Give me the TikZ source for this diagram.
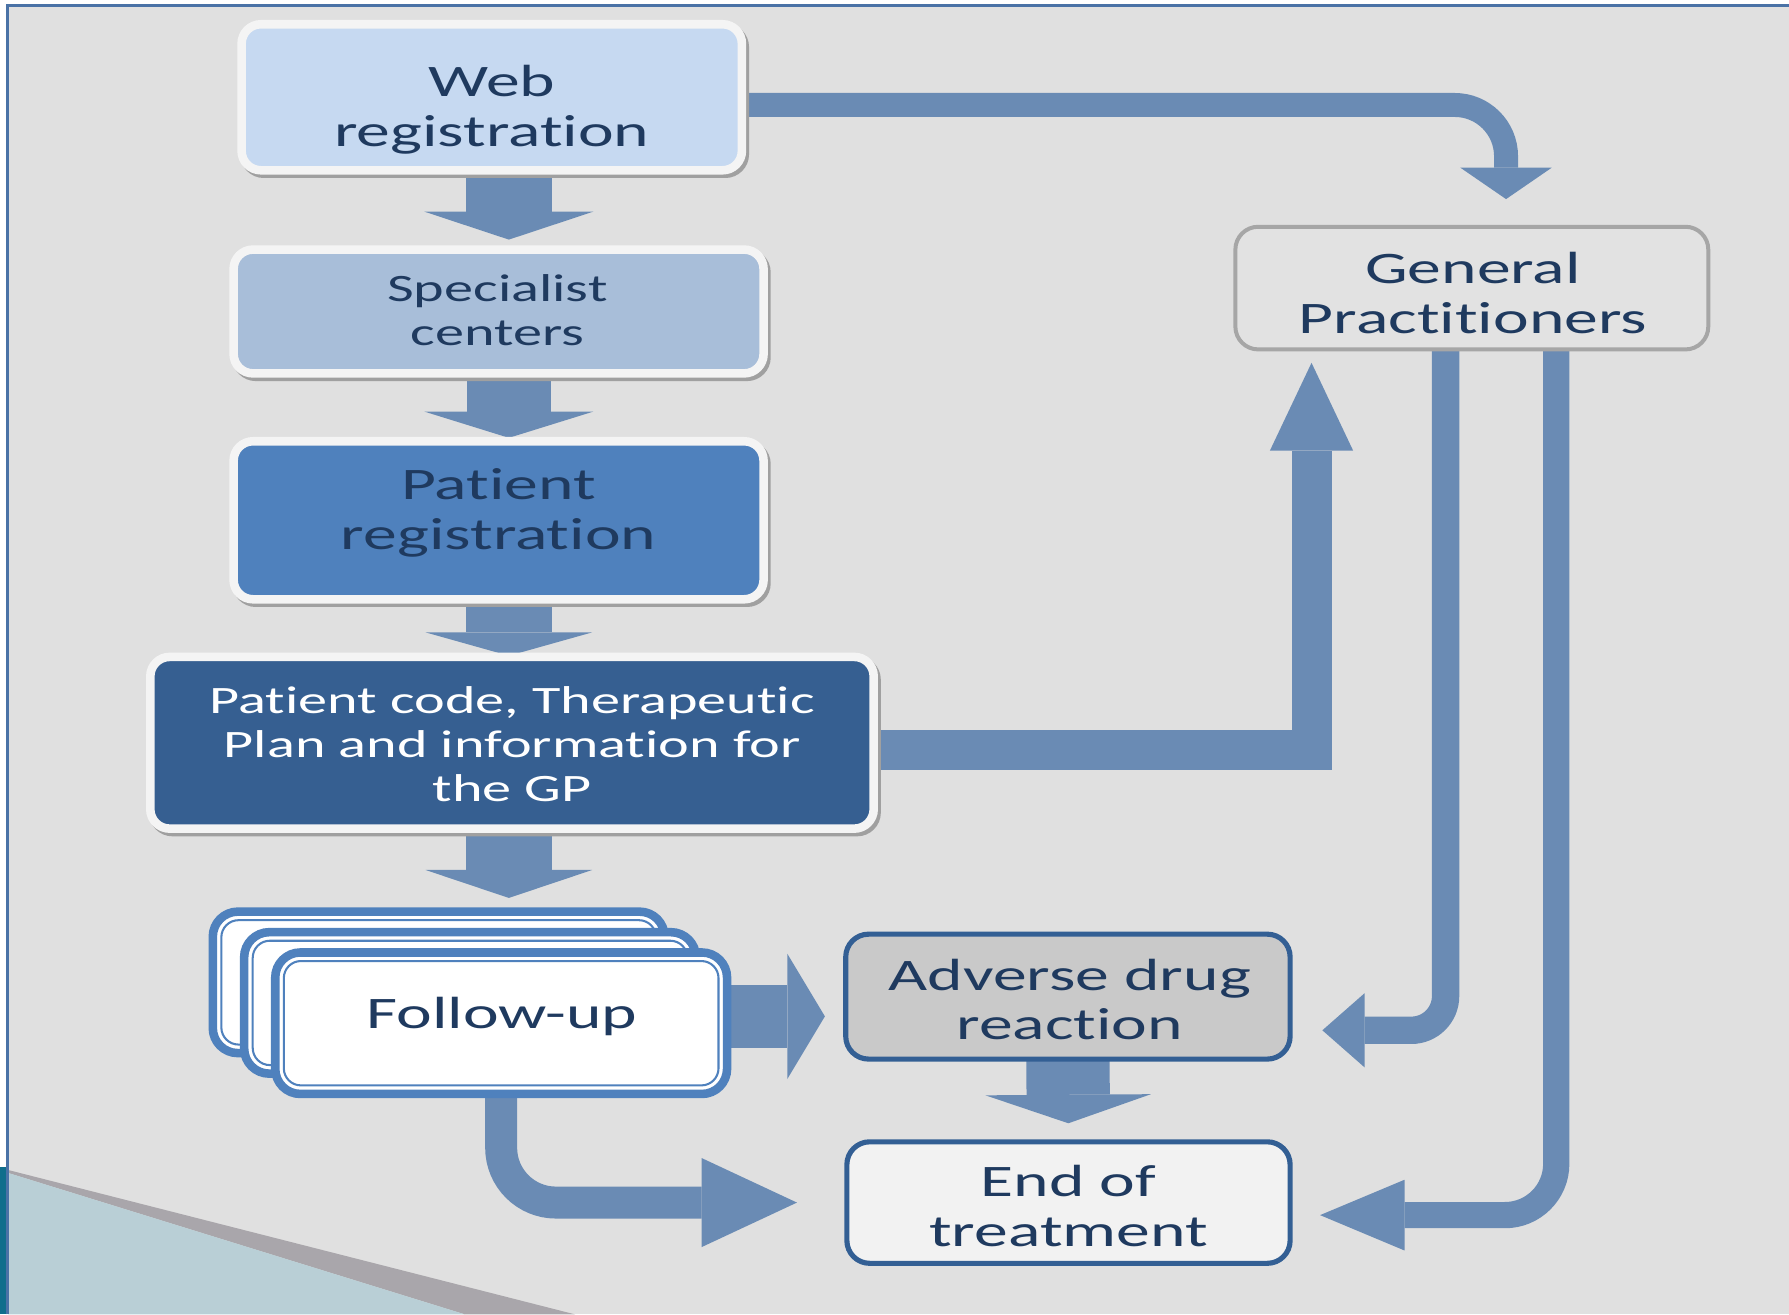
\documentclass[tikz,border=0pt]{standalone}
\usepackage{fontspec}
\newfontfamily\diagfont[FakeStretch=1.5, Ligatures=NoCommon]{Carlito}
\usetikzlibrary{arrows.meta,calc,shadows}

\definecolor{bgray}{HTML}{E0E0E0}
\definecolor{frameblue}{HTML}{4A72A6}
\definecolor{navy}{HTML}{1F3A5F}
\definecolor{webfill}{HTML}{C6D9F1}
\definecolor{specfill}{HTML}{A8BED9}
\definecolor{regfill}{HTML}{4F81BD}
\definecolor{codefill}{HTML}{365F91}
\definecolor{rimwhite}{HTML}{F4F4F4}
\definecolor{shadowgray}{HTML}{A0A0A0}
\definecolor{arrowblue}{HTML}{6A8BB4}
\definecolor{stackblue}{HTML}{4F81BD}
\definecolor{darkrim}{HTML}{335F94}
\definecolor{adrfill}{HTML}{C9C9C9}
\definecolor{endfill}{HTML}{F2F2F2}
\definecolor{gprim}{HTML}{A6A6A6}
\definecolor{gpfill}{HTML}{E2E2E2}
\definecolor{tealband}{HTML}{106E8C}
\definecolor{paleblue}{HTML}{B9CFD6}
\definecolor{stripegray}{HTML}{A9A6AB}

\pgfdeclarelayer{back}
\pgfdeclarelayer{flow}
\pgfsetlayers{back,flow,main}

\tikzset{
  every node/.style={inner sep=0pt, outer sep=0pt},
  rimbox/.style={rounded corners=17pt, draw=rimwhite, line width=7.5pt,
    drop shadow={shadow xshift=2.5pt, shadow yshift=-3pt, draw=shadowgray,
      fill=shadowgray, line width=7.5pt, opacity=1}},
  stackbox/.style={rounded corners=22pt, draw=stackblue, fill=white,
    line width=7.5pt, minimum width=396pt, minimum height=124pt},
  stackline/.style={draw=stackblue, line width=1.8pt, rounded corners=15pt},
  darkbox/.style={rounded corners=20pt, draw=darkrim, line width=4.5pt},
  bigtxt/.style={font=\diagfont\fontsize{39.5}{43.8}\selectfont, text=navy, align=center, anchor=base},
  smalltxt/.style={font=\diagfont\fontsize{34}{38.5}\selectfont, text=navy, align=center, anchor=base},
  blk/.style n args={3}{draw=arrowblue, line width=#1,
    -{Triangle[width=#2, length=#3, line width=0pt]}}
}

\begin{document}
\begin{tikzpicture}[x=1pt, y=-1pt]
\useasboundingbox (0,0) rectangle (1568,1152);

% slide background, frame and corner decoration
\begin{pgfonlayer}{back}
  \fill[white] (0,0) rectangle (1568,1152);
  \fill[bgray] (6.8,4.7) rectangle (1568,1152);
  \fill[tealband] (0,1022.5) rectangle (5.6,1152);
  \fill[stripegray] (7,1025.4) -- (504,1152) -- (407.5,1152) -- (7,1028) -- cycle;
  \fill[paleblue] (7,1028) -- (407.5,1152) -- (7,1152) -- cycle;
  \draw[frameblue, line width=2.5pt] (6.8,1152) -- (6.8,4.7) -- (1568,4.7);
\end{pgfonlayer}

% main column of process boxes
\node[rimbox, fill=webfill, minimum width=438.5pt, minimum height=128pt] (web) at (431,85.25) {};
\node[rimbox, fill=specfill, minimum width=464.5pt, minimum height=108.5pt] (spec) at (437,273) {};
\node[rimbox, fill=regfill, minimum width=464.5pt, minimum height=138.5pt] (reg) at (437,456) {};
\node[rimbox, fill=codefill, minimum width=634pt, minimum height=150.5pt] (code) at (448.75,651) {};

% stacked follow-up cards
\node[stackbox] (fu3) at (384.5,861) {};
\draw[stackline] ([shift={(7.5,7.5)}]fu3.north west) rectangle ([shift={(-7.5,-7.5)}]fu3.south east);
\node[stackbox] (fu2) at (412,879) {};
\draw[stackline] ([shift={(7.5,7.5)}]fu2.north west) rectangle ([shift={(-7.5,-7.5)}]fu2.south east);
\node[stackbox] (fu) at (439.25,896.8) {};
\draw[stackline] ([shift={(7.5,7.5)}]fu.north west) rectangle ([shift={(-7.5,-7.5)}]fu.south east);

% outcome boxes and general practitioners
\node[darkbox, fill=adrfill, minimum width=389.5pt, minimum height=109.5pt] (adr) at (936,873.5) {};
\node[darkbox, fill=endfill, minimum width=388.5pt, minimum height=106.5pt] (eot) at (936.5,1054) {};
\node[draw=gprim, line width=3.5pt, rounded corners=20pt, fill=gpfill,
      minimum width=414.5pt, minimum height=107.5pt] (gp) at (1290,252.5) {};

% labels (placed on the baseline of their last line)
\node[bigtxt] (webtxt) at (431,128.5) {Web\\registration};
\node[smalltxt] (spectxt) at (436,302.4) {Specialist\\centers};
\node[bigtxt] (regtxt) at (437,482) {Patient\\registration};
\node[smalltxt, text=white] (codetxt) at (449,702.6) {Patient code, Therapeutic\\Plan and information for\\the GP};
\node[bigtxt] (futxt) at (440,901.3) {Follow-up};
\node[bigtxt] (adrtxt) at (937.5,911.5) {Adverse drug\\reaction};
\node[bigtxt] (eottxt) at (936.5,1092.6) {End of\\treatment};
\node[bigtxt] (gptxt) at (1291,292.1) {General\\Practitioners};

% block arrows
\coordinate (col) at (446,0);
\coordinate (r1s) at ($(fu.east)+(0,-6)$);
\coordinate (p1s) at ($(code.east)+(0,6)$);
\coordinate (w1s) at ($(web.east)+(0,6.75)$);
\begin{pgfonlayer}{flow}
  \draw[blk={75pt}{148pt}{24.5pt}, shorten >=8.75pt] (web.south -| col) -- (spec.north -| col);
  \draw[blk={74pt}{148pt}{23pt}, shorten >=3pt] (spec.south -| col) -- (reg.north -| col);
  \draw[blk={75pt}{146pt}{20.5pt}, shorten >=1pt] (reg.south -| col) -- (code.north -| col);
  \draw[blk={76pt}{146pt}{24.5pt}, shorten >=12pt] (code.south -| col) -- (fu3.north -| col);
  \draw[blk={73pt}{145pt}{25pt}, shorten >=16.25pt] (adr.south) -- (eot.north);
  \draw[blk={55pt}{110pt}{33pt}, shorten >=18.25pt] (r1s) -- (r1s -| adr.west);
  \draw[blk={28pt}{78pt}{83.5pt}, rounded corners=48pt, shorten >=43.75pt] (fu.south) |- (eot.west);
  \draw[blk={35pt}{73pt}{77pt}, line join=miter, shorten >=11.75pt] (p1s) -| ($(gp.south)+(-140.5,0)$);
  \draw[blk={21pt}{80pt}{27.5pt}, rounded corners=45pt, shorten >=24.25pt] (w1s) -| ($(gp.north)+(30,0)$);
  \draw[blk={24pt}{65pt}{37pt}, rounded corners=30pt, shorten >=28.25pt] ($(gp.south)+(-23,0)$) |- ($(adr.east)+(0,29.5)$);
  \draw[blk={23pt}{62pt}{74pt}, rounded corners=45pt, shorten >=26.25pt] ($(gp.south)+(74,0)$) |- ($(eot.east)+(0,11)$);
\end{pgfonlayer}
\end{tikzpicture}
\end{document}
